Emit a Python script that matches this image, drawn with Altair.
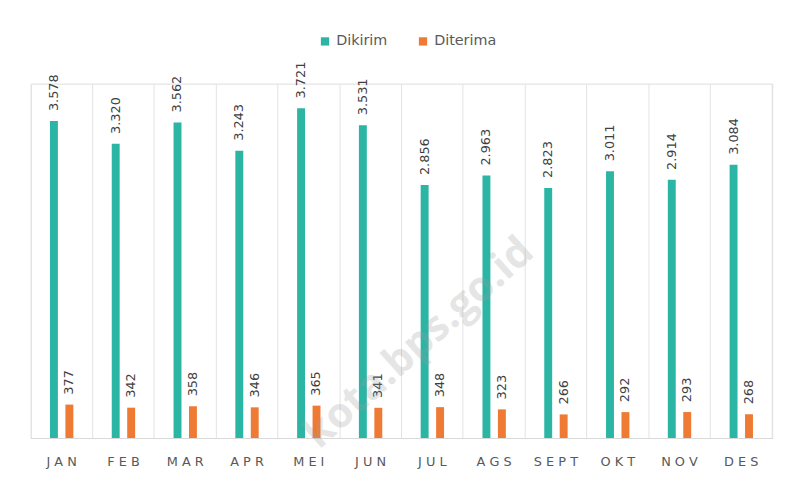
import altair as alt
import pandas as pd

months = ["JAN", "FEB", "MAR", "APR", "MEI", "JUN", "JUL", "AGS", "SEPT", "OKT", "NOV", "DES"]
dikirim = [3578, 3320, 3562, 3243, 3721, 3531, 2856, 2963, 2823, 3011, 2914, 3084]
diterima = [377, 342, 358, 346, 365, 341, 348, 323, 266, 292, 293, 268]
series = ["Dikirim", "Diterima"]
colors = ["#2bb5a5", "#ee7a33"]


def fmt(v):
    return f"{v:,}".replace(",", ".")


rows = []
for m, a, b in zip(months, dikirim, diterima):
    rows.append({"bulan": m, "seri": series[0], "nilai": a, "label": fmt(a)})
    rows.append({"bulan": m, "seri": series[1], "nilai": b, "label": fmt(b)})
df = pd.DataFrame(rows)

W, H = 749, 358

x = alt.X(
    "bulan:N",
    sort=months,
    scale=alt.Scale(paddingInner=0, paddingOuter=0),
    axis=alt.Axis(
        title=None,
        labelAngle=0,
        labelFontSize=13,
        labelColor="#595959",
        labelFont="DejaVu Sans",
        labelPadding=18,
        labelExpr="join(split(datum.label, ''), ' ')",
        ticks=False,
        domain=True,
        domainColor="#d9d9d9",
        grid=True,
        gridColor="#e3e3e3",
        bandPosition=0,
    ),
)
xoff = alt.XOffset("seri:N", sort=series, scale=alt.Scale(paddingInner=0, paddingOuter=1))
y = alt.Y("nilai:Q", scale=alt.Scale(domain=[0, 4000]), axis=None)
color = alt.Color(
    "seri:N",
    sort=series,
    scale=alt.Scale(domain=series, range=colors),
    legend=alt.Legend(
        title=None,
        orient="none",
        direction="horizontal",
        legendX=290,
        legendY=-50,
        symbolType="square",
        symbolSize=70,
        symbolStrokeWidth=0,
        labelFontSize=14.5,
        labelColor="#595959",
        labelFont="DejaVu Sans",
        columnPadding=28,
        labelOffset=4,
    ),
)

base = alt.Chart(df)

bars = base.mark_bar(size=8).encode(x=x, xOffset=xoff, y=y, color=color)

labels = base.mark_text(
    angle=270, align="left", baseline="middle", dx=10, fontSize=13,
    font="DejaVu Sans", color="#404040"
).encode(x=x, xOffset=xoff, y=y, text="label:N")

right_edge = alt.Chart(pd.DataFrame({"a": [0]})).mark_rule(color="#e3e3e3").encode(
    x=alt.value(W), y=alt.value(0), y2=alt.value(H)
)

watermark = alt.Chart(pd.DataFrame({"t": ["kota.bps.go.id"]})).mark_text(
    angle=318, fontSize=42, fontWeight="bold", font="Open Sans",
    color="#9a9a9a", opacity=0.25, align="center", baseline="middle"
).encode(x=alt.value(392), y=alt.value(262), text="t:N")

chart = (
    alt.layer(right_edge, bars, labels, watermark)
    .properties(
        width=W,
        height=H,
        autosize=alt.AutoSizeParams(type="none"),
        padding={"left": 23, "top": 74, "right": 18, "bottom": 35},
    )
    .configure_view(stroke=None)
    .configure(background="white")
)

chart.save("out.html", embed_options={"renderer": "svg", "actions": False})
